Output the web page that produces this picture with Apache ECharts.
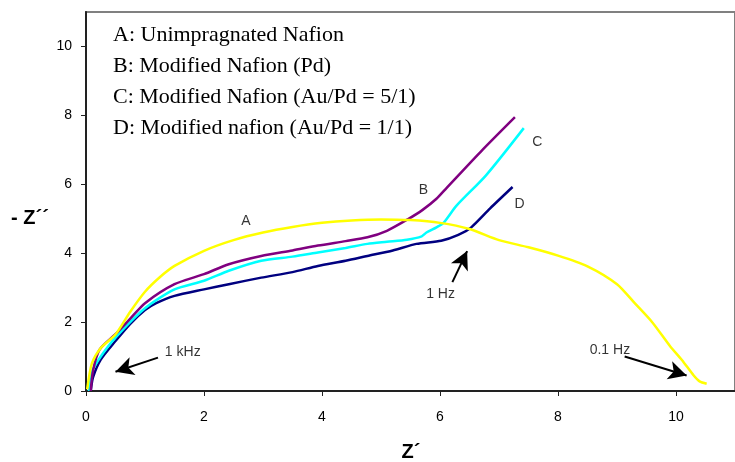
<!DOCTYPE html>
<html><head><meta charset="utf-8">
<script src="https://cdn.jsdelivr.net/npm/echarts@6/dist/echarts.min.js"></script>
<style>html,body{margin:0;padding:0;background:#fff}#c{width:735px;height:462px}</style>
</head><body><div id="c"></div>
<script>
var seriesNames = ['A', 'B', 'C', 'D'];
var A_x = [0.02, 0.1, 0.25, 0.5, 0.75, 1.0, 1.25, 1.5, 2.0, 2.5, 3.0, 3.5, 4.0, 4.5, 5.0, 5.5, 6.0, 6.5, 7.0, 7.5, 8.0, 8.5, 9.0, 9.3, 9.6, 9.9, 10.1, 10.3, 10.4, 10.52];
var A_y = [0.05, 0.8, 1.25, 1.64, 2.3, 2.88, 3.3, 3.63, 4.07, 4.38, 4.6, 4.76, 4.88, 4.95, 4.98, 4.96, 4.88, 4.7, 4.38, 4.17, 3.93, 3.62, 3.1, 2.55, 1.99, 1.3, 0.9, 0.45, 0.28, 0.21];
var B_x = [0.08, 0.12, 0.23, 0.5, 0.75, 1.0, 1.5, 2.0, 2.42, 2.97, 3.5, 3.93, 4.4, 4.77, 5.1, 5.46, 5.7, 5.94, 6.11, 6.72, 7.27];
var B_y = [0, 0.6, 1.2, 1.65, 2.1, 2.55, 3.1, 3.39, 3.68, 3.92, 4.08, 4.22, 4.35, 4.46, 4.65, 4.99, 5.25, 5.58, 5.89, 7.0, 7.95];
var C_x = [0.05, 0.1, 0.25, 0.5, 1.0, 1.5, 2.0, 2.42, 2.97, 3.5, 3.93, 4.4, 4.77, 5.1, 5.44, 5.69, 5.77, 5.94, 6.06, 6.28, 6.78, 7.42];
var C_y = [0, 0.55, 1.0, 1.55, 2.4, 2.95, 3.2, 3.49, 3.78, 3.9, 4.02, 4.15, 4.27, 4.33, 4.39, 4.49, 4.6, 4.75, 4.88, 5.38, 6.26, 7.63];
var D_x = [0.08, 0.12, 0.25, 0.5, 0.75, 1.0, 1.19, 1.5, 2.0, 2.42, 2.97, 3.5, 3.93, 4.4, 4.77, 5.2, 5.6, 6.02, 6.31, 6.53, 6.85, 7.23];
var D_y = [0, 0.4, 0.91, 1.45, 1.95, 2.35, 2.55, 2.76, 2.95, 3.1, 3.29, 3.45, 3.63, 3.78, 3.92, 4.08, 4.27, 4.36, 4.53, 4.75, 5.3, 5.92];
var xTicks = [0, 2, 4, 6, 8, 10];
var yTicks = [0, 2, 4, 6, 8, 10];
var legendLines = ['A: Unimpragnated Nafion', 'B: Modified Nafion (Pd)', 'C: Modified Nafion (Au/Pd = 5/1)', 'D: Modified nafion (Au/Pd = 1/1)'];
var curveLabels = [['A', 2.71, 4.92], ['B', 5.72, 5.82], ['C', 7.65, 7.23], ['D', 7.35, 5.43]];
var annoTexts = [['1 kHz', 1.64, 1.12], ['1 Hz', 6.01, 2.81], ['0.1 Hz', 8.88, 1.2]];
var annoArrows = [[1.22, 0.97, 0.50, 0.56], [6.21, 3.16, 6.46, 4.06], [9.13, 1.0, 10.18, 0.45]];
var colors = ['#FFFF00', '#800080', '#00FFFF', '#000080'];

function pairs(xs, ys) { return xs.map(function (x, i) { return [x, ys[i]]; }); }
var allData = [pairs(A_x, A_y), pairs(B_x, B_y), pairs(C_x, C_y), pairs(D_x, D_y)];

var chart = echarts.init(document.getElementById('c'), null, {renderer: 'canvas'});
var series = allData.map(function (d, i) {
  return {
    name: seriesNames[i], type: 'line', data: d, showSymbol: false, smooth: 0.25,
    lineStyle: {color: colors[i], width: 2.5}, z: 5 - i, animation: false
  };
});
series.push({
  type: 'line', data: [], silent: true, animation: false,
  markLine: {
    silent: true, animation: false, symbol: ['none', 'arrow'], symbolSize: [14, 18],
    lineStyle: {color: '#000', width: 2, type: 'solid'}, label: {show: false},
    data: annoArrows.map(function (a) { return [{coord: [a[0], a[1]]}, {coord: [a[2], a[3]]}]; })
  }
});
series.push({
  type: 'scatter', symbolSize: 0, animation: false, silent: true,
  data: curveLabels.map(function (c) { return {value: [c[1], c[2]], name: c[0]}; })
    .concat(annoTexts.map(function (c) { return {value: [c[1], c[2]], name: c[0]}; })),
  label: {show: true, position: 'inside', formatter: '{b}', color: '#000', fontFamily: 'Liberation Sans, Arial', fontSize: 14}
});

chart.setOption({
  animation: false,
  grid: {left: 86, top: 12, width: 656, height: 379, show: true, borderColor: '#808080', borderWidth: 2, backgroundColor: 'transparent'},
  xAxis: {
    type: 'value', min: 0, max: 11, interval: 2,
    axisLine: {show: true, lineStyle: {color: '#222', width: 2}},
    axisTick: {show: true, length: 5, lineStyle: {color: '#222'}, customValues: xTicks},
    axisLabel: {color: '#000', fontFamily: 'Liberation Sans, Arial', fontSize: 14, margin: 19, customValues: xTicks},
    splitLine: {show: false}
  },
  yAxis: {
    type: 'value', min: 0, max: 11, interval: 2,
    axisLine: {show: true, lineStyle: {color: '#222', width: 2}},
    axisTick: {show: true, length: 5, lineStyle: {color: '#222'}, customValues: yTicks},
    axisLabel: {color: '#000', fontFamily: 'Liberation Sans, Arial', fontSize: 14, margin: 14, customValues: yTicks},
    splitLine: {show: false}
  },
  graphic: legendLines.map(function (t, i) {
    return {type: 'text', left: 113, top: 24 + i * 31.2,
      style: {text: t, fill: '#000', font: '22px "Liberation Serif", "Times New Roman", serif'}};
  }).concat([
    {type: 'text', x: 30, y: 218, style: {text: '- Z\u00b4\u00b4', fill: '#000', align: 'center', verticalAlign: 'middle', font: 'bold 20px "Liberation Sans", Arial'}},
    {type: 'text', x: 411, y: 452, style: {text: 'Z\u00b4', fill: '#000', align: 'center', verticalAlign: 'middle', font: 'bold 20px "Liberation Sans", Arial'}}
  ]),
  series: series
});
</script></body></html>
